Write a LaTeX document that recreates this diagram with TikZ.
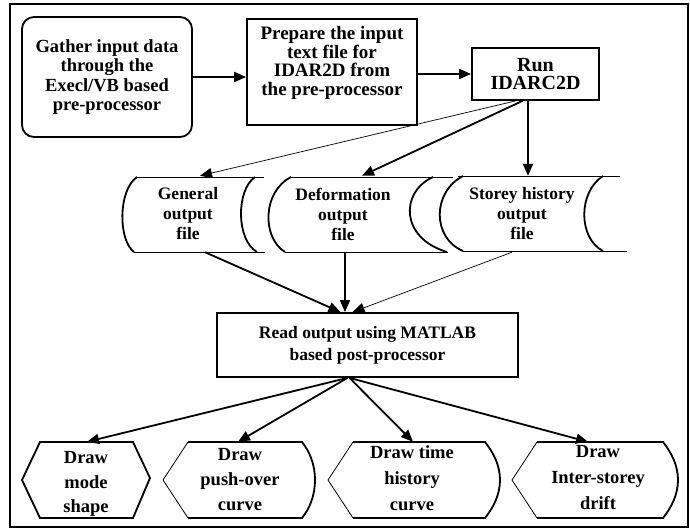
\documentclass[tikz,border=0pt]{standalone}
\usepackage{fontspec}
\setmainfont{Liberation Serif}
\usetikzlibrary{arrows.meta,calc}
\begin{document}
\begin{tikzpicture}[x=1pt,y=-1pt,
  thk/.style={line width=1.8pt},
  thn/.style={line width=0.8pt},
  arr/.style={line width=1.8pt,-{Triangle[length=12pt,width=10pt]}},
  tarr/.style={line width=0.7pt,-{Triangle[length=12pt,width=10pt]}},
  boxst/.style={draw,line width=1.8pt,inner sep=0pt},
  zone/.style={inner sep=0pt,minimum height=76pt,align=center},
]
\useasboundingbox (0,0) rectangle (690,531);
\draw[thk] (10,4) rectangle (688,527);

% top boxes
\node[boxst,rounded corners=12pt,minimum width=170pt,minimum height=120pt,align=center,
      font=\bfseries\fontsize{18.5}{19.5}\selectfont] (b1) at (107,77)
  {Gather input data\\through the\\Execl/VB based\\pre-processor};
\node[boxst,minimum width=170pt,minimum height=106pt] (b2) at (332,72) {};
\node[align=center,inner sep=0pt,font=\bfseries\fontsize{19}{18.5}\selectfont] (b2t) at (332,63)
  {Prepare the input\\text file for\\IDAR2D from\\the pre-processor};
\node[boxst,minimum width=127pt,minimum height=52pt,align=center,
      font=\bfseries\fontsize{20}{18.5}\selectfont] (b3) at (535.5,74) {Run\\IDARC2D};

% stored data shapes
\draw[thn] (137,177) -- (264,177) (134,252) -- (265,252);
\draw[thk] (137,177) .. controls (118,190) and (118,240) .. (134,252);
\draw[thk] (255,177) .. controls (236,190) and (236,240) .. (257,252);
\node[zone,minimum width=130pt,font=\bfseries\fontsize{17.5}{20}\selectfont] (gen) at (188,214)
  {General\\output\\file};

\draw[thn] (291,177) -- (453,177) (285,252) -- (448,252);
\draw[thk] (291,177) .. controls (262,192) and (262,238) .. (285,252);
\draw[thk] (433,177) .. controls (400,192) and (400,238) .. (447,252);
\node[zone,minimum width=140pt,font=\bfseries\fontsize{17.5}{20}\selectfont] (def) at (343,214)
  {Deformation\\output\\file};

\draw[thn] (458,176) -- (620,176) (463,251) -- (627,251);
\draw[thk] (463,176) .. controls (432,192) and (432,238) .. (463,251);
\draw[thk] (603,176) .. controls (578,192) and (578,238) .. (603,251);
\node[zone,minimum width=130pt,font=\bfseries\fontsize{17.5}{20}\selectfont] (sto) at (522,214)
  {Storey history\\output\\file};

% read box
\node[boxst,minimum width=301pt,minimum height=64pt,align=center,
      font=\bfseries\fontsize{17.5}{22}\selectfont] (read) at (367.5,345)
  {Read output using MATLAB\\based post-processor};

% bottom shapes
\draw[thk] (22,480) -- (40,442) -- (133,442) -- (150,478) -- (133,518) -- (40,518) -- cycle;
\node[zone,minimum width=100pt] (h1) at (86,480) {};
\node[align=center,inner sep=0pt,font=\bfseries\fontsize{18.5}{24.5}\selectfont] (h1t) at (86,484)
  {Draw\\mode\\shape};

\draw[thn] (188,442) -- (163,480) -- (188,518);
\draw[thk] (188,442) -- (302,442) .. controls (310,452) and (315,465) .. (315,480)
  .. controls (315,495) and (310,508) .. (302,518) -- (188,518);
\node[zone,minimum width=110pt,font=\bfseries\fontsize{18.5}{25}\selectfont] (h2) at (240,480)
  {Draw\\push-over\\curve};

\draw[thn] (353,442) -- (328,480) -- (353,518);
\draw[thk] (353,442) -- (485,442) .. controls (493,452) and (500,465) .. (500,480)
  .. controls (500,495) and (493,508) .. (485,518) -- (353,518);
\node[zone,minimum width=120pt] (h3) at (412,480) {};
\node[align=center,inner sep=0pt,font=\bfseries\fontsize{18.5}{26}\selectfont] (h3t) at (412,478)
  {Draw time\\history\\curve};

\draw[thn] (537,442) -- (512,480) -- (537,518);
\draw[thk] (537,442) -- (663,442) .. controls (671,452) and (678,465) .. (678,480)
  .. controls (678,495) and (671,508) .. (663,518) -- (537,518);
\node[zone,minimum width=120pt] (h4) at (598,480) {};
\node[align=center,inner sep=0pt,font=\bfseries\fontsize{18.5}{26}\selectfont] (h4t) at (598,478)
  {Draw\\Inter-storey\\drift};

% connectors
\draw[arr] (b1.east) -- (b1.east -| b2.west);
\draw[arr] (b2.east |- b3.west) -- (b3.west);
\draw[tarr] ($(b3.south)+(-20,0)$) -- ($(gen.north)+(12,0)$);
\draw[arr] ($(b3.south)+(-13,0)$) -- ($(def.north)+(19,0)$);
\draw[arr] ($(b3.south)+(-7.5,0)$) -- ($(sto.north)+(6,0)$);
\draw[arr] ($(gen.south)+(17,0)$) -- ($(read.north)+(-27,0)$);
\draw[arr] ($(def.south)+(2,0)$) -- ($(read.north)+(-22.5,0)$);
\draw[tarr] ($(sto.south)+(-10,0)$) -- ($(read.north)+(-15,0)$);
\draw[arr] ($(read.south)+(-20,0)$) -- ($(h1.north)+(1,0)$);
\draw[arr] ($(read.south)+(-20,0)$) -- ($(h2.north)+(-2,0)$);
\draw[arr] ($(read.south)+(-18,0)$) -- ($(h3.north)+(1,0)$);
\draw[arr] ($(read.south)+(-18,0)$) -- ($(h4.north)+(-10,0)$);
\end{tikzpicture}
\end{document}
